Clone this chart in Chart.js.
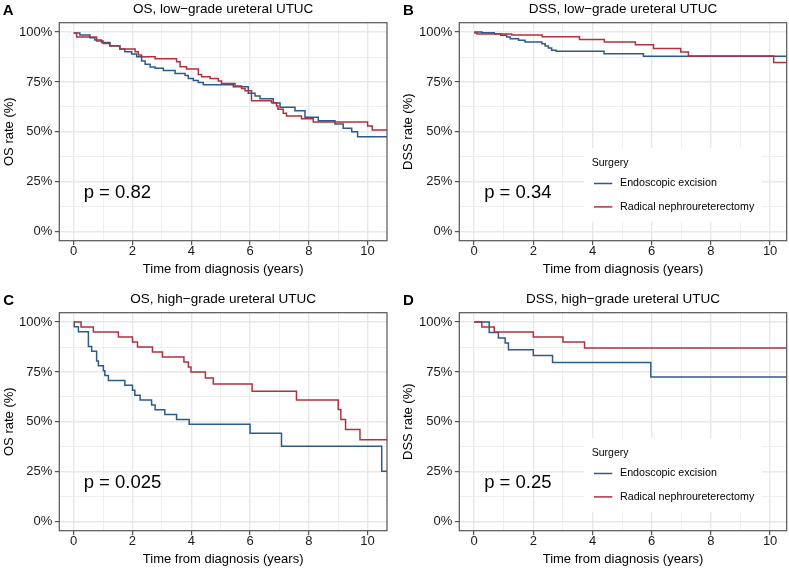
<!DOCTYPE html>
<html lang="en">
<head>
<meta charset="UTF-8">
<script src="https://cdn.jsdelivr.net/npm/chart.js@4"></script>
<title>Survival curves, ureteral UTUC</title>
<style>
  body { margin: 0; background: #fff; width: 789px; height: 569px; position: relative; overflow: hidden; }
  canvas { position: absolute; }
</style>
</head>
<body>
<canvas id="panelA" width="394" height="279" style="left:0px;top:0px"></canvas>
<canvas id="panelB" width="394" height="279" style="left:395px;top:0px"></canvas>
<canvas id="panelC" width="394" height="279" style="left:0px;top:290px"></canvas>
<canvas id="panelD" width="394" height="279" style="left:395px;top:290px"></canvas>

<script>
// ---- data (time in years, survival in %) ----
var groupNames = ['Endoscopic excision', 'Radical nephroureterectomy'];
var xTicks = [0, 1, 2, 3, 4, 5, 6, 7, 8, 9, 10];
var yTicks = [0, 12.5, 25, 37.5, 50, 62.5, 75, 87.5, 100];

// A: OS low grade
var aEndoTime = [0, 0.21, 0.55, 0.72, 0.95, 1.23, 1.57, 1.74, 1.97, 2.14, 2.31, 2.43, 2.6, 2.77, 3.05, 3.45, 3.79, 3.9, 4.07, 4.24, 4.41, 5.43, 5.94, 6.17, 6.34, 6.79, 7.02, 7.53, 7.87, 8.32, 8.89, 9.17, 9.46, 9.66, 11];
var aEndoSurv = [99.5, 98.5, 97.2, 96, 94.8, 93, 91.5, 90.2, 89, 87.7, 85.5, 83.9, 82.5, 81.9, 80.7, 79.3, 78.2, 76.8, 75.8, 74.8, 73.6, 72.6, 69.3, 68, 66.6, 64.5, 62.3, 60.6, 57.3, 55.6, 53.9, 51.8, 50.1, 47.6, 47.6];
var aRnuTime = [0, 0.1, 0.78, 1.0, 1.23, 1.57, 2.09, 2.2, 2.31, 2.77, 3.5, 3.62, 3.84, 4.24, 4.35, 4.64, 4.92, 5.03, 5.49, 5.71, 5.83, 6.05, 6.73, 6.9, 6.95, 7.13, 7.24, 7.75, 8.15, 10.0, 10.16, 11];
var aRnuSurv = [99.5, 97.5, 95.5, 94.3, 93.2, 91.5, 90.2, 88.5, 87.7, 86.6, 85.1, 82.6, 81.5, 78.8, 77.6, 76.8, 75.5, 74.3, 73, 71.8, 70.6, 65.6, 64.6, 63, 61.3, 59.3, 58, 56.6, 54.9, 52.9, 50.9, 50.9];

// B: DSS low grade
var bEndoTime = [0, 0.26, 0.68, 0.9, 1.1, 1.22, 1.5, 1.72, 2.29, 2.4, 2.51, 2.62, 2.77, 4.39, 5.72, 11];
var bEndoSurv = [100, 99.7, 99.2, 98.4, 97.5, 96.7, 95.9, 95, 94.2, 93, 92, 90.9, 90.4, 89.2, 87.9, 87.9];
var bRnuTime = [0, 0.1, 1.27, 2.3, 3.56, 4.4, 5.45, 6.06, 6.98, 7.24, 10.12, 11];
var bRnuSurv = [99.6, 99, 98.5, 97.7, 96.3, 95, 93.7, 91.8, 90, 88, 84.8, 84.8];

// C: OS high grade
var cEndoTime = [0, 0.02, 0.16, 0.5, 0.61, 0.78, 0.84, 1.01, 1.06, 1.18, 1.74, 2.0, 2.08, 2.26, 2.65, 2.77, 3.1, 3.5, 3.93, 6.0, 7.07, 10.48, 11];
var cEndoSurv = [100, 97.6, 95.1, 87.8, 85.4, 80.5, 78.1, 75.6, 73.2, 70.7, 68.3, 65.9, 63.4, 61.0, 58.5, 56.1, 53.7, 51.2, 48.8, 44.3, 37.8, 25.3, 25.3];
var cRnuTime = [0, 0.25, 0.67, 1.52, 2.0, 2.17, 2.68, 3.02, 3.75, 3.9, 3.99, 4.48, 4.75, 6.07, 7.58, 9.0, 9.09, 9.25, 9.74, 11];
var cRnuSurv = [100, 97.5, 95, 92.5, 90, 87.5, 85, 82.5, 80, 77.5, 75, 72, 69, 65.3, 61, 56.2, 51.2, 46.2, 41, 41];

// D: DSS high grade
var dEndoTime = [0, 0.51, 0.82, 1.05, 1.16, 2.0, 2.65, 5.97, 11];
var dEndoSurv = [100, 94.8, 92, 89.5, 86.2, 83.2, 79.8, 72.5, 72.5];
var dRnuTime = [0, 0.26, 0.68, 2.0, 3.0, 3.73, 11];
var dRnuSurv = [100, 97.5, 95, 92.5, 90, 87, 87];

var pValues = ['p = 0.82', 'p = 0.34', 'p = 0.025', 'p = 0.25'];

// ---- colours / fonts ----
var blu = '#2c5b89';
var rosso = '#b2313c';
var famiglia = '"Liberation Sans", Arial, Helvetica, sans-serif';
Chart.defaults.font.family = famiglia;

function toPoints(t, s) {
    return t.map(function (v, i) { return { x: v, y: s[i] }; });
}

// plugin that draws the frame, the letter, the title, the p value and (if wanted) the legend
var decorPlugin = {
    id: 'decor',
    afterDraw: function (chart, args, o) {
        var ctx = chart.ctx, a = chart.chartArea;
        var xs = chart.scales.x, ys = chart.scales.y;
        ctx.save();
        // frame
        ctx.strokeStyle = '#555';
        ctx.lineWidth = 1.2;
        ctx.strokeRect(a.left, a.top, a.right - a.left, a.bottom - a.top);
        // letter
        ctx.fillStyle = '#000';
        ctx.textBaseline = 'alphabetic';
        ctx.textAlign = 'left';
        ctx.font = 'bold 15px ' + famiglia;
        ctx.fillText(o.letter, o.letterX, 15);
        // title
        ctx.font = '13.5px ' + famiglia;
        ctx.textAlign = 'center';
        ctx.fillText(o.title, (a.left + a.right) / 2, 12.5);
        // p value
        ctx.font = '18.5px ' + famiglia;
        ctx.textAlign = 'left';
        ctx.textBaseline = 'middle';
        ctx.fillText(o.pval, xs.getPixelForValue(0.34), ys.getPixelForValue(19.3));
        // legend
        if (o.legend) {
            var L = a.left, T = a.top;
            ctx.fillStyle = '#fff';
            ctx.fillRect(L + 124.7, T + 125.3, 177.7, 73.7);
            ctx.fillStyle = '#000';
            ctx.font = '10.5px ' + famiglia;
            ctx.fillText('Surgery', L + 132.4, T + 140.5);
            var cols = [blu, rosso];
            var ys2 = [160.8, 184.2];
            ctx.font = '10.7px ' + famiglia;
            for (var i = 0; i < 2; i++) {
                ctx.strokeStyle = cols[i];
                ctx.lineWidth = 1.5;
                ctx.beginPath();
                ctx.moveTo(L + 134.7, T + ys2[i]);
                ctx.lineTo(L + 153, T + ys2[i]);
                ctx.stroke();
                ctx.fillText(groupNames[i], L + 160.7, T + ys2[i]);
            }
        }
        ctx.restore();
    }
};

function makePanel(id, letter, letterX, title, yTitle, pval, endoT, endoS, rnuT, rnuS, legend, yWidth, padRight, yTitlePad, xMin, xMax) {
    var data = {
        datasets: [
            { label: groupNames[1], data: toPoints(rnuT, rnuS), borderColor: rosso, borderWidth: 1.5, stepped: true, pointRadius: 0, fill: false },
            { label: groupNames[0], data: toPoints(endoT, endoS), borderColor: blu, borderWidth: 1.5, stepped: true, pointRadius: 0, fill: false }
        ]
    };
    var options = {
        responsive: false,
        animation: false,
        devicePixelRatio: 1,
        layout: { padding: { top: 22.7, right: padRight, left: 0, bottom: 0 } },
        plugins: {
            legend: { display: false },
            title: { display: false },
            tooltip: { enabled: false },
            decor: { letter: letter, letterX: letterX, title: title, pval: pval, legend: legend }
        },
        scales: {
            x: {
                type: 'linear', min: xMin, max: xMax,
                afterBuildTicks: function (s) { s.ticks = xTicks.map(function (v) { return { value: v }; }); },
                afterFit: function (s) { s.height = 38.3; },
                border: { display: false },
                grid: {
                    color: '#e8e8e8',
                    lineWidth: function (c) { return c.tick && (c.tick.value % 2 === 0) ? 1.4 : 0.7; },
                    tickLength: 4.5,
                    tickWidth: 1,
                    tickColor: function (c) { return c.tick && c.tick.value % 2 === 0 ? '#333' : 'rgba(0,0,0,0)'; }
                },
                ticks: {
                    autoSkip: false, maxRotation: 0, padding: -1.5, color: '#1a1a1a', font: { size: 13 },
                    callback: function (v) { return v % 2 === 0 ? v : ''; }
                },
                title: { display: true, text: 'Time from diagnosis (years)', color: '#000', font: { size: 13 }, padding: { top: 0, bottom: 2.2 } }
            },
            y: {
                type: 'linear', min: -4.5, max: 104.7,
                afterBuildTicks: function (s) { s.ticks = yTicks.map(function (v) { return { value: v }; }); },
                afterFit: function (s) { s.width = yWidth; },
                border: { display: false },
                grid: {
                    color: '#e8e8e8',
                    lineWidth: function (c) { return c.tick && (c.tick.value % 25 === 0) ? 1.4 : 0.7; },
                    tickLength: 4.5,
                    tickWidth: 1,
                    tickColor: function (c) { return c.tick && c.tick.value % 25 === 0 ? '#333' : 'rgba(0,0,0,0)'; }
                },
                ticks: {
                    autoSkip: false, padding: 2.5, color: '#1a1a1a', font: { size: 13 },
                    callback: function (v) { return v % 25 === 0 ? v + '%' : ''; }
                },
                title: { display: true, text: yTitle, color: '#000', font: { size: 13 }, padding: { top: yTitlePad, bottom: 0 } }
            }
        }
    };
    return new Chart(id, { type: 'line', data: data, options: options, plugins: [decorPlugin] });
}

makePanel('panelA', 'A', 2.7, 'OS, low\u2212grade ureteral UTUC', 'OS rate (%)', pValues[0], aEndoTime, aEndoSurv, aRnuTime, aRnuSurv, false, 59.3, 7, 1.2, -0.49, 10.66);
makePanel('panelB', 'B', 8, 'DSS, low\u2212grade ureteral UTUC', 'DSS rate (%)', pValues[1], bEndoTime, bEndoSurv, bRnuTime, bRnuSurv, true, 64.3, 2.3, 5.5, -0.5, 10.56);
makePanel('panelC', 'C', 3.3, 'OS, high\u2212grade ureteral UTUC', 'OS rate (%)', pValues[2], cEndoTime, cEndoSurv, cRnuTime, cRnuSurv, false, 59.3, 7, 1.2, -0.49, 10.66);
makePanel('panelD', 'D', 8, 'DSS, high\u2212grade ureteral UTUC', 'DSS rate (%)', pValues[3], dEndoTime, dEndoSurv, dRnuTime, dRnuSurv, true, 64.3, 2.3, 5.5, -0.5, 10.56);
</script>
</body>
</html>
